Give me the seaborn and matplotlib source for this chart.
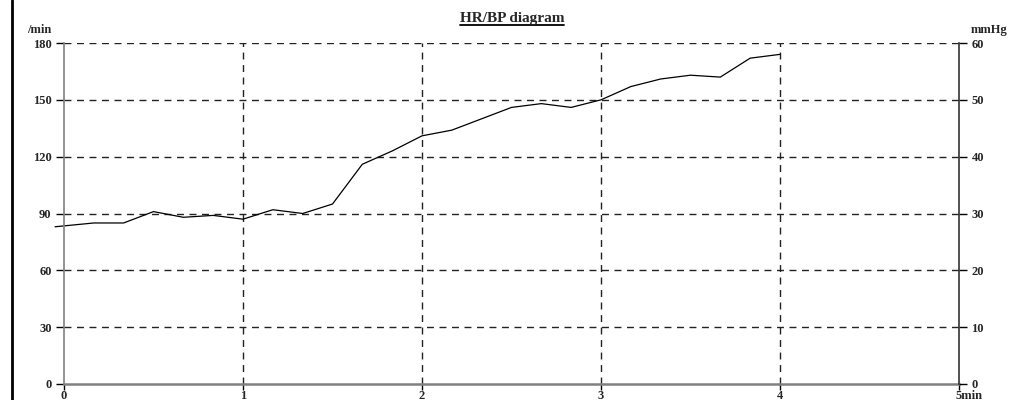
import matplotlib
matplotlib.use("Agg")
import matplotlib.pyplot as plt
import matplotlib.transforms as mtransforms
from matplotlib.lines import Line2D
import seaborn as sns
import pandas as pd

# heart rate samples, every 10 s (first one read slightly left of the axis)
minutes = [-0.05, 1/6, 2/6, 3/6, 4/6, 5/6, 1.0, 7/6, 8/6, 9/6, 10/6, 11/6, 2.0,
           13/6, 14/6, 15/6, 16/6, 17/6, 3.0, 19/6, 20/6, 21/6, 22/6, 23/6, 4.0]
hr = [83, 85, 85, 91, 88, 89, 87, 92, 90, 95, 116, 123, 131,
      134, 140, 146, 148, 146, 150, 157, 161, 163, 162, 172, 174]

x_ticks = [0, 1, 2, 3, 4, 5]
x_labels = ["0", "1", "2", "3", "4", "5min"]
hr_ticks = [0, 30, 60, 90, 120, 150, 180]
bp_ticks = [0, 10, 20, 30, 40, 50, 60]

df = pd.DataFrame({"t": minutes, "hr": hr})

sns.set_style("white")
plt.rcParams["font.family"] = ["Liberation Serif", "DejaVu Serif"]
plt.rcParams["font.weight"] = "bold"

LS = 9  # label size

fig = plt.figure(figsize=(10.09, 4.0), dpi=100)
ax = fig.add_axes([64 / 1009, 16 / 400, (959 - 64) / 1009, (384 - 43) / 400])

sns.lineplot(data=df, x="t", y="hr", ax=ax, color="black", linewidth=0.9)
for ln in ax.get_lines():
    ln.set_clip_on(False)

ax.set_xlim(0, 5)
ax.set_ylim(0, 180)
ax.set_xlabel("")
ax.set_ylabel("")

# dashed grid
for v in [1, 2, 3, 4]:
    ax.axvline(v, color="#222222", linewidth=1, linestyle=(0, (5, 4)), zorder=0)
for h in [30, 60, 90, 120, 150, 180]:
    ax.axhline(h, color="#222222", linewidth=1, linestyle=(0, (5, 4)), zorder=0)

ax.spines["top"].set_visible(False)
ax.spines["left"].set_color("#808080")
ax.spines["left"].set_linewidth(1.2)
ax.spines["bottom"].set_color("#808080")
ax.spines["bottom"].set_linewidth(1.8)
ax.spines["right"].set_visible(False)

ax.set_xticks(x_ticks)
ax.set_xticklabels(x_labels)
ax.set_yticks(hr_ticks)
ax.tick_params(axis="x", direction="out", length=4, width=1, color="black", pad=0.5, labelsize=LS, bottom=True)
ax.tick_params(axis="y", direction="out", length=6, width=1, color="black", pad=3, labelsize=LS, left=True)
last = ax.get_xticklabels()[-1]
last.set_ha("left")
last.set_transform(last.get_transform() + mtransforms.ScaledTranslation(-3 / 100, 0, fig.dpi_scale_trans))

# right axis for blood pressure
ax2 = ax.twinx()
ax2.set_ylim(0, 60)
ax2.set_yticks(bp_ticks)
for s in ["top", "left", "bottom"]:
    ax2.spines[s].set_visible(False)
ax2.spines["right"].set_color("#333333")
ax2.spines["right"].set_linewidth(1.2)
ax2.tick_params(axis="y", direction="out", length=6, width=1, color="black", pad=3, labelsize=LS, right=True)

fig.text(51 / 1009, 1 - 33 / 400, "/min", fontsize=LS, fontweight="bold", ha="right", va="baseline")
fig.text(971 / 1009, 1 - 33 / 400, "mmHg", fontsize=LS, fontweight="bold", ha="left", va="baseline")

title = fig.text(512 / 1009, 1 - 22 / 400, "HR/BP diagram", fontsize=11, fontweight="bold",
                 ha="center", va="baseline")

# underline under the title
fig.canvas.draw()
bb = title.get_window_extent()
uy = 1 - 24.5 / 400
fig.add_artist(Line2D([bb.x0 / 1009, bb.x1 / 1009], [uy, uy], color="black", linewidth=1.3))

# page border line at the left
fig.add_artist(Line2D([12 / 1009, 12 / 1009], [0, 1], color="black", linewidth=2))

fig.savefig("out.png", dpi=100)
